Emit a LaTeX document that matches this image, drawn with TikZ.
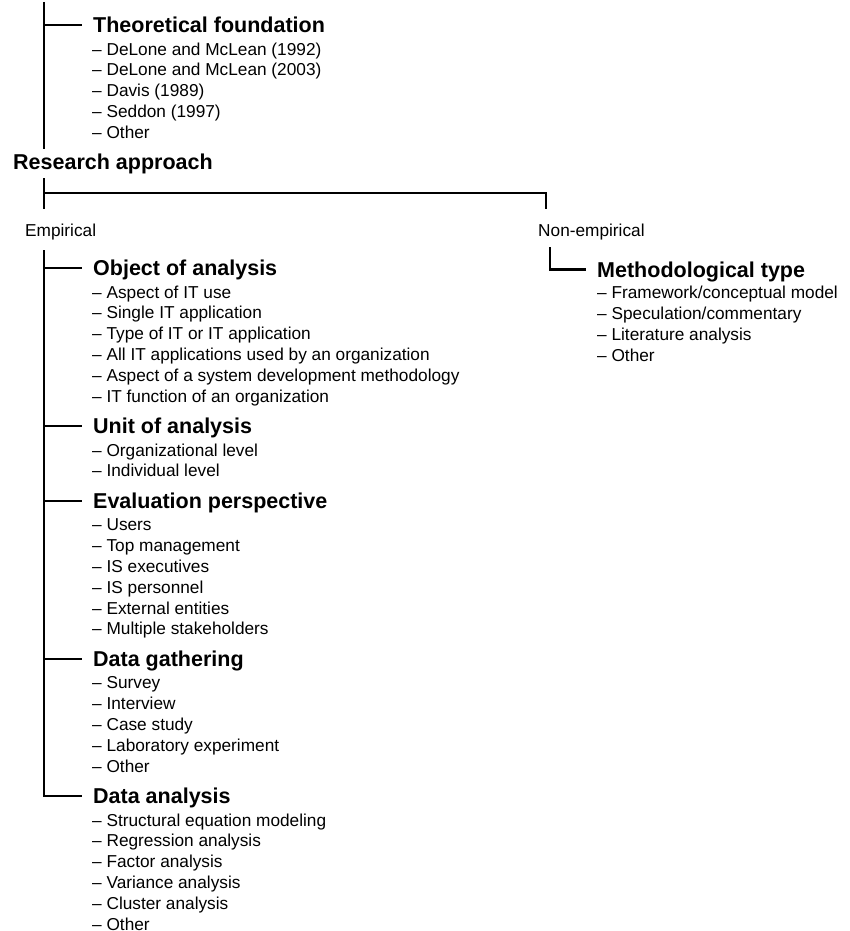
\documentclass[tikz,border=0pt]{standalone}
\usepackage{fontspec}
\setmainfont{Liberation Sans}
\tikzset{
  conn/.style={draw=black, line width=2.2pt},
  head/.style={anchor=west, inner sep=0pt, text height=15.4pt, text depth=0pt, font=\fontsize{21.5}{24}\selectfont\bfseries},
  entry/.style={anchor=west, inner sep=0pt, text height=12.35pt, text depth=0pt, font=\fontsize{17.25}{20}\selectfont},
}
\newcommand\itemsat[4]{%
  \foreach \t [count=\i from 0] in {#4} {\node[entry] (#1\i) at (#2,{#3+20.8*\i}) {\textendash\ \t};}%
}
\begin{document}
\begin{tikzpicture}[x=1pt,y=-1pt]
\useasboundingbox (0,0) rectangle (850,931);
% top part
\coordinate (s0) at (44,2);
\coordinate (s1) at (44,149);
\node[head] (tf) at (93,25) {Theoretical foundation};
\draw[conn] (s0) -- (s1);
\draw[conn] (s0 |- tf.west) -- ([xshift=-11pt]tf.west);
\itemsat{tfi}{92}{49}{DeLone and McLean (1992),DeLone and McLean (2003),Davis (1989),Seddon (1997),Other}
% research approach
\node[head] (ra) at (13,162) {Research approach};
\coordinate (r0) at (44,178);
\coordinate (r1) at (44,209);
\coordinate (rm) at (44,193);
\coordinate (rr) at (546,209);
\draw[conn] (r0) -- (r1);
\draw[conn] (rm) -| (rr);
\node[entry] (emp) at (25,230) {Empirical};
\node[entry] (nemp) at (538,230) {Non-empirical};
% empirical branch
\coordinate (e0) at (44,250);
\node[head] (oa) at (93,268) {Object of analysis};
\itemsat{oai}{92}{292}{Aspect of IT use,Single IT application,Type of IT or IT application,All IT applications used by an organization,Aspect of a system development methodology,IT function of an organization}
\node[head] (ua) at (93,426) {Unit of analysis};
\itemsat{uai}{92}{450}{Organizational level,Individual level}
\node[head] (ep) at (93,500.8) {Evaluation perspective};
\itemsat{epi}{92}{524.8}{Users,Top management,IS executives,IS personnel,External entities,Multiple stakeholders}
\node[head] (dg) at (93,658.8) {Data gathering};
\itemsat{dgi}{92}{682.8}{Survey,Interview,Case study,Laboratory experiment,Other}
\node[head] (da) at (93,796) {Data analysis};
\itemsat{dai}{92}{820}{Structural equation modeling,Regression analysis,Factor analysis,Variance analysis,Cluster analysis,Other}
\draw[conn] (e0) |- ([xshift=-11pt]da.west);
\foreach \h in {oa,ua,ep,dg} {\draw[conn] (e0 |- \h.west) -- ([xshift=-11pt]\h.west);}
% non-empirical branch
\coordinate (n0) at (550,247);
\node[head] (mt) at (597,269.5) {Methodological type};
\draw[conn] (n0) |- ([xshift=-11pt]mt.west);
\itemsat{mti}{597}{292.5}{Framework/conceptual model,Speculation/commentary,Literature analysis,Other}
\end{tikzpicture}
\end{document}
